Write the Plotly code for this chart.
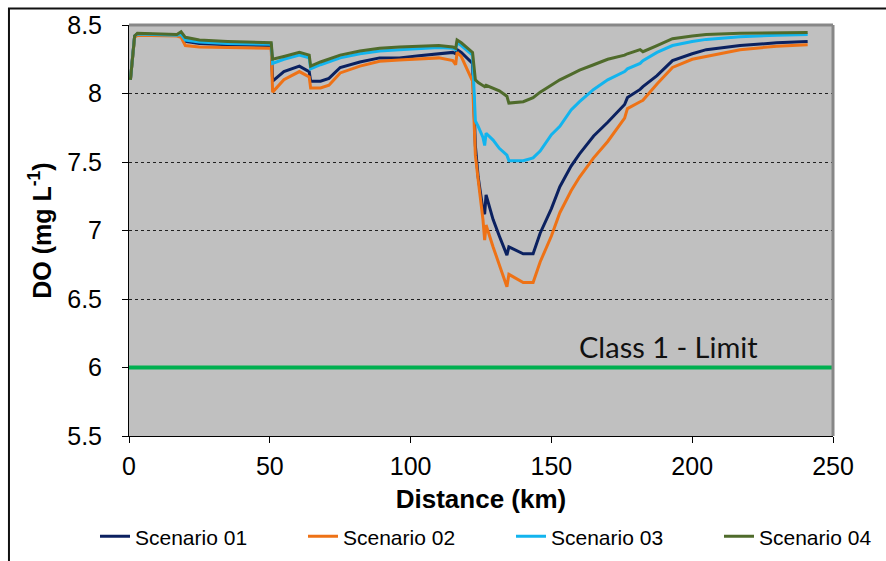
import plotly.graph_objects as go

distance_km = [0.5, 2, 3, 17, 18.5, 20, 25, 35, 50.5, 51, 55, 60.5, 64, 64.5, 68, 71, 75, 82, 89, 96,
               103, 110, 115, 116, 116.5, 118, 122, 123, 124, 125.7, 126.3, 126.8, 129.3, 131.5, 134.2,
               134.9, 140, 143.5, 146, 150, 153, 157, 160, 165, 170, 176, 177, 181.5, 182.5, 187.5,
               193, 200, 205, 217, 230, 241]

scenario_01 = [8.10, 8.42, 8.435, 8.425, 8.43, 8.38, 8.365, 8.355, 8.35, 8.09, 8.16, 8.20, 8.16, 8.09,
               8.09, 8.11, 8.19, 8.23, 8.26, 8.26, 8.275, 8.29, 8.30, 8.29, 8.32, 8.30, 8.22, 7.62,
               7.39, 7.15, 7.12, 7.26, 7.08, 6.96, 6.82, 6.88, 6.83, 6.83, 6.98, 7.16, 7.32, 7.47,
               7.56, 7.69, 7.79, 7.92, 7.97, 8.03, 8.05, 8.13, 8.24, 8.29, 8.32, 8.35, 8.37, 8.38]

scenario_02 = [8.10, 8.41, 8.425, 8.42, 8.41, 8.35, 8.34, 8.335, 8.33, 8.01, 8.10, 8.16, 8.12, 8.04,
               8.04, 8.06, 8.15, 8.20, 8.235, 8.245, 8.255, 8.26, 8.24, 8.21, 8.30, 8.27, 8.09, 7.55,
               7.37, 7.08, 6.93, 7.04, 6.88, 6.75, 6.59, 6.68, 6.62, 6.62, 6.77, 6.96, 7.13, 7.29,
               7.39, 7.53, 7.65, 7.82, 7.89, 7.94, 7.95, 8.07, 8.19, 8.25, 8.27, 8.32, 8.345, 8.355]

scenario_03 = [8.10, 8.42, 8.435, 8.425, 8.43, 8.39, 8.375, 8.365, 8.36, 8.22, 8.25, 8.28, 8.26, 8.18,
               8.21, 8.23, 8.26, 8.29, 8.31, 8.32, 8.33, 8.335, 8.33, 8.32, 8.37, 8.35, 8.28, 7.80,
               7.76, 7.68, 7.62, 7.71, 7.66, 7.60, 7.55, 7.51, 7.51, 7.53, 7.58, 7.70, 7.76, 7.88,
               7.94, 8.03, 8.10, 8.16, 8.18, 8.22, 8.24, 8.30, 8.35, 8.38, 8.395, 8.415, 8.425, 8.43]

scenario_04 = [8.10, 8.42, 8.44, 8.43, 8.45, 8.41, 8.39, 8.38, 8.37, 8.25, 8.27, 8.30, 8.28, 8.20,
               8.23, 8.25, 8.28, 8.31, 8.33, 8.34, 8.345, 8.35, 8.34, 8.33, 8.39, 8.37, 8.30, 8.10,
               8.08, 8.06, 8.05, 8.06, 8.04, 8.02, 7.98, 7.93, 7.94, 7.97, 8.01, 8.06, 8.10, 8.14,
               8.17, 8.21, 8.25, 8.28, 8.29, 8.32, 8.305, 8.35, 8.40, 8.42, 8.43, 8.44, 8.445, 8.445]

series_names = ["Scenario 01", "Scenario 02", "Scenario 03", "Scenario 04"]
series_colors = ["#0B2160", "#EE7216", "#12B4EE", "#4F6B2B"]

limit_x = [0, 250]
limit_y = [6, 6]
limit_label = "Class 1 - Limit"

x_ticks = [0, 50, 100, 150, 200, 250]
y_ticks = [5.5, 6, 6.5, 7, 7.5, 8, 8.5]

fig = go.Figure()
fig.add_trace(go.Scatter(x=limit_x, y=limit_y, mode="lines", showlegend=False,
                         line=dict(color="#00B050", width=4), hoverinfo="skip"))
for name, ys, col in zip(series_names, [scenario_01, scenario_02, scenario_03, scenario_04], series_colors):
    fig.add_trace(go.Scatter(x=distance_km, y=ys, mode="lines", name=name,
                             line=dict(color=col, width=3)))

fig.add_annotation(x=191.5, y=6.15, xref="x", yref="y", text=limit_label, showarrow=False,
                   font=dict(family="Lato, Carlito, sans-serif", size=29, color="#111111"))

FONT = "Liberation Sans, Arial, sans-serif"

fig.update_layout(
    width=886, height=561,
    margin=dict(l=129, r=53, t=25, b=125, autoexpand=False),
    paper_bgcolor="white",
    plot_bgcolor="#C0C0C0",
    font=dict(family=FONT, color="black"),
    showlegend=True,
    legend=dict(orientation="h", x=-0.0483, y=-0.245, xanchor="left", yanchor="middle",
                entrywidth=163, entrywidthmode="pixels", font=dict(size=21, family=FONT),
                bgcolor="rgba(0,0,0,0)", traceorder="normal"),
    xaxis=dict(range=[0, 250], tickvals=x_ticks, showgrid=False, zeroline=False,
               showline=True, linecolor="black", linewidth=1, automargin=False,
               ticks="outside", ticklen=6, tickcolor="black",
               tickfont=dict(size=25), ticklabelstandoff=2,
               title=dict(text="<b>Distance (km)</b>", font=dict(size=26), standoff=10)),
    yaxis=dict(range=[5.5, 8.5], tickvals=y_ticks, showgrid=True, gridcolor="#202020",
               griddash="dot", gridwidth=1, zeroline=False, automargin=False,
               showline=True, linecolor="black", linewidth=1,
               ticks="outside", ticklen=6, tickcolor="black",
               tickfont=dict(size=25), ticklabelstandoff=15,
               title=dict(text="<b>DO (mg L<sup>-1</sup>)</b>", font=dict(size=25), standoff=8)),
    shapes=[
        dict(type="line", xref="paper", yref="paper", x0=0, x1=1, y0=1, y1=1,
             line=dict(color="#878787", width=3)),
        dict(type="line", xref="paper", yref="paper", x0=1, x1=1, y0=0, y1=1,
             line=dict(color="#878787", width=3)),
        dict(type="rect", xref="paper", yref="paper", x0=-0.1705, x1=1.3, y0=-0.5, y1=1.04,
             fillcolor="rgba(0,0,0,0)", line=dict(color="#111111", width=2)),
    ],
)

fig.write_html("out.html", config={"displayModeBar": False},
               post_script="document.body.style.margin='0';document.body.style.overflow='hidden';")
